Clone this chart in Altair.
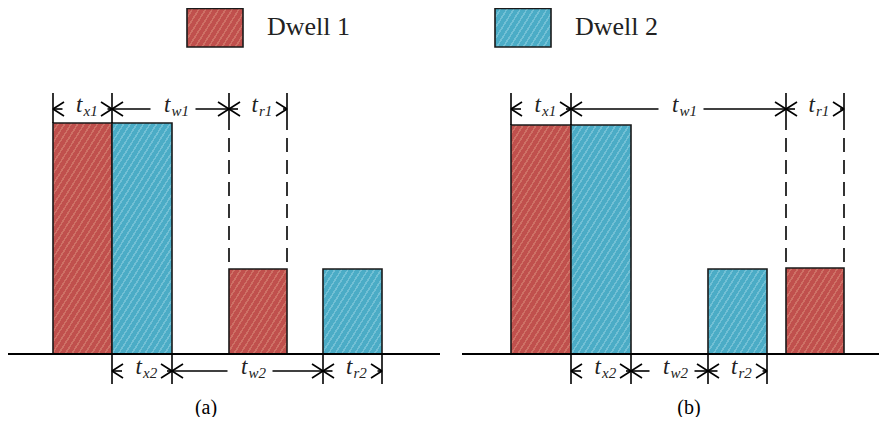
import math
import altair as alt
import pandas as pd

# ---------------- data (time positions along x, heights above baseline) ----------------
bar_panel = ["a", "a", "a", "a", "b", "b", "b", "b"]
bar_series = ["Dwell 1", "Dwell 2", "Dwell 1", "Dwell 2", "Dwell 1", "Dwell 2", "Dwell 2", "Dwell 1"]
bar_start = [53, 112, 229, 323, 511, 571, 708, 786]
bar_end = [112, 172, 287, 382, 571, 631, 767, 844]
bar_height = [231, 231, 85, 85, 229, 229, 85, 86]

top_ticks = {"a": [53, 112, 229, 287], "b": [511, 571, 786, 844]}
top_labels = ["x1", "w1", "r1"]
bot_ticks = {"a": [112, 172, 323, 382], "b": [571, 631, 708, 767]}
bot_labels = ["x2", "w2", "r2"]

axis_start = [8, 462]
axis_end = [440, 879]

panel_names = ["(a)", "(b)"]
panel_name_x = [206, 689]

legend_names = ["Dwell 1", "Dwell 2"]
legend_x = [187, 495]

# ---------------- style ----------------
W, H = 871, 409
COL = {"Dwell 1": "#C0504D", "Dwell 2": "#4BACC6"}
LIGHT = {"Dwell 1": "#CE7166", "Dwell 2": "#72C0D5"}
TOP_ARROW, TOP_TICK, SOLID_END = 245, 261, 224
BOT_ARROW, BOT_TICK = -17, -30
HEAD_L, HEAD_H = 11, 7
YPX = 409 / (346 + 63)  # pixels per height unit


def stripes(series, w, h, angle=58, spacing=6.5, duty=0.72):
    k = math.tan(math.radians(angle))
    a, b = k * w, h
    lam = (a + b) / (a * a + b * b)
    dx, dy = lam * a, lam * b
    n = max(2, round((dx * dx + dy * dy) * w / (spacing * dx)))
    stops = []
    for i in range(n):
        o1, o2, o3 = i / n, (i + duty) / n, (i + 1) / n
        stops += [
            {"offset": o1, "color": COL[series]},
            {"offset": o2, "color": COL[series]},
            {"offset": o2, "color": LIGHT[series]},
            {"offset": o3, "color": LIGHT[series]},
        ]
    return {"gradient": "linear", "x1": 0, "y1": 0, "x2": dx, "y2": dy, "stops": stops}


bars = pd.DataFrame({"idx": list(range(8)), "panel": bar_panel, "series": bar_series,
                     "x": bar_start, "x2": bar_end, "y": [0] * 8, "y2": bar_height})

seg = []
txt = []


def arrows(ticks, labels, ay):
    for i, lab in enumerate(labels):
        a, b = ticks[i], ticks[i + 1]
        c = (a + b) / 2
        l1, r1 = c - 20, c + 25
        if l1 > a:
            seg.append((a, ay, l1, ay, "solid"))
        if r1 < b:
            seg.append((r1, ay, b, ay, "solid"))
        seg.append((a, ay, a + HEAD_L, ay + HEAD_H, "solid"))
        seg.append((a, ay, a + HEAD_L, ay - HEAD_H, "solid"))
        seg.append((b, ay, b - HEAD_L, ay + HEAD_H, "solid"))
        seg.append((b, ay, b - HEAD_L, ay - HEAD_H, "solid"))
        txt.append((c, ay - 3, "t", 23, "right"))
        txt.append((c + 1, ay - 7, lab, 15, "left"))


for p in ["a", "b"]:
    for t in top_ticks[p]:
        under = [h for s, e, h, pp in zip(bar_start, bar_end, bar_height, bar_panel)
                 if pp == p and (s == t or e == t)]
        hmax = max(under) if under else 0
        if hmax >= SOLID_END:
            seg.append((t, TOP_TICK, t, hmax, "solid"))
        else:
            seg.append((t, TOP_TICK, t, SOLID_END, "solid"))
            seg.append((t, SOLID_END - 8, t, hmax, "dash"))
    for t in bot_ticks[p]:
        seg.append((t, 0, t, BOT_TICK, "solid"))
    arrows(top_ticks[p], top_labels, TOP_ARROW)
    arrows(bot_ticks[p], bot_labels, BOT_ARROW)

segs = pd.DataFrame(seg, columns=["x", "y", "x2", "y2", "kind"])
labels = pd.DataFrame(txt, columns=["x", "y", "text", "size", "align"])
axes_df = pd.DataFrame({"x": axis_start, "x2": axis_end, "y": [0, 0]})
panels_df = pd.DataFrame({"x": panel_name_x, "y": [-60, -60], "text": panel_names})
leg_df = pd.DataFrame({"series": legend_names, "x": legend_x,
                       "x2": [v + 56 for v in legend_x], "y": [307, 307], "y2": [345.5, 345.5],
                       "tx": [v + 80 for v in legend_x], "ty": [327, 327]})

xs = alt.Scale(domain=[8, 8 + W], nice=False, zero=False)
ys = alt.Scale(domain=[-63, 346], nice=False, zero=False)
X = lambda f: alt.X(f, type="quantitative", scale=xs, axis=None)
Y = lambda f: alt.Y(f, type="quantitative", scale=ys, axis=None)

layers = []
for i in range(8):
    w = bar_end[i] - bar_start[i]
    h = bar_height[i] * YPX
    layers.append(
        alt.Chart(bars).transform_filter(alt.datum.idx == i)
        .mark_rect(fill=stripes(bar_series[i], w, h), stroke="#1a1a1a", strokeWidth=1.6)
        .encode(x=X("x"), x2="x2", y=Y("y"), y2="y2")
    )
for s in legend_names:
    layers.append(
        alt.Chart(leg_df).transform_filter(alt.datum.series == s)
        .mark_rect(fill=stripes(s, 56, 38.5), stroke="#1a1a1a", strokeWidth=1.6)
        .encode(x=X("x"), x2="x2", y=Y("y"), y2="y2")
    )

layers.append(
    alt.Chart(axes_df).mark_rule(color="black", strokeWidth=2)
    .encode(x=X("x"), x2="x2", y=Y("y"))
)
layers.append(
    alt.Chart(segs).transform_filter(alt.datum.kind == "solid")
    .mark_rule(color="black", strokeWidth=1.6)
    .encode(x=X("x"), x2="x2", y=Y("y"), y2="y2")
)
layers.append(
    alt.Chart(segs).transform_filter(alt.datum.kind == "dash")
    .mark_rule(color="black", strokeWidth=1.6, strokeDash=[14, 8])
    .encode(x=X("x"), x2="x2", y=Y("y"), y2="y2")
)
for al, fs in [("right", 23), ("left", 15)]:
    layers.append(
        alt.Chart(labels).transform_filter(alt.datum.align == al)
        .mark_text(font="Liberation Serif", fontStyle="italic", align=al,
                   baseline="alphabetic", color="#222", fontSize=fs)
        .encode(x=X("x"), y=Y("y"), text="text:N")
    )

layers.append(
    alt.Chart(panels_df).mark_text(font="Liberation Serif", fontSize=20,
                                   baseline="alphabetic", color="black")
    .encode(x=X("x"), y=Y("y"), text="text:N")
)
layers.append(
    alt.Chart(leg_df).mark_text(font="Liberation Serif", fontSize=26, align="left",
                                baseline="middle", color="#222")
    .encode(x=X("tx"), y=Y("ty"), text="series:N")
)

chart = (
    alt.layer(*layers)
    .properties(width=W, height=H, padding=0, autosize=alt.AutoSizeParams(type="none"))
    .configure_view(stroke=None)
)

chart.save("out.html", embed_options={"renderer": "svg", "actions": False})
